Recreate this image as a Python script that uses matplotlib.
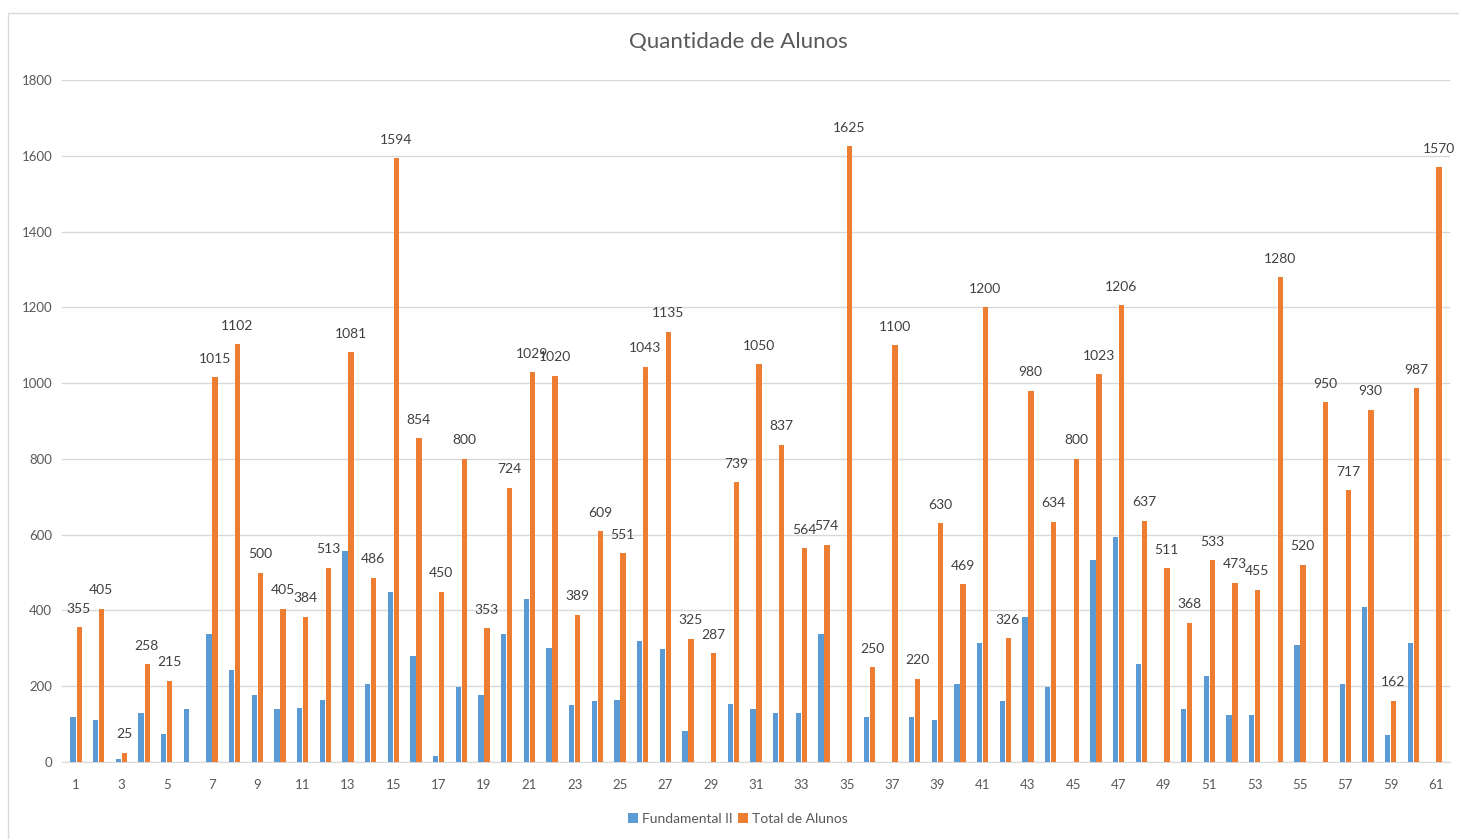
import matplotlib.pyplot as plt
import numpy as np
from matplotlib.patches import Rectangle

plt.rcParams['font.family'] = ['Lato', 'DejaVu Sans']

## dados
escolas = list(range(1, 62))

fundamental_ii = [120, 112, 7, 130, 74, 140, 339, 244, 178, 140,
                  143, 164, 557, 206, 449, 279, 15, 199, 178, 339,
                  429, 300, 150, 161, 164, 320, 299, 81, 0, 153,
                  140, 130, 130, 338, 0, 119, 0, 119, 110, 206,
                  314, 160, 383, 199, 0, 532, 595, 259, 0, 140,
                  226, 125, 125, 0, 310, 0, 206, 408, 70, 314, 0]

total_alunos = [355, 405, 25, 258, 215, None, 1015, 1102, 500, 405,
                384, 513, 1081, 486, 1594, 854, 450, 800, 353, 724,
                1029, 1020, 389, 609, 551, 1043, 1135, 325, 287, 739,
                1050, 837, 564, 574, 1625, 250, 1100, 220, 630, 469,
                1200, 326, 980, 634, 800, 1023, 1206, 637, 511, 368,
                533, 473, 455, 1280, 520, 950, 717, 930, 162, 987, 1570]

yticks = [0, 200, 400, 600, 800, 1000, 1200, 1400, 1600, 1800]

AZUL = "#5B9BD5"
LARANJA = "#ED7D31"
TEXTO = "#595959"

x = np.array(escolas)
fund = np.array(fundamental_ii, dtype=float)
fund[fund == 0] = np.nan
tot = np.array([np.nan if v is None else v for v in total_alunos], dtype=float)

fig = plt.figure(figsize=(14.59, 8.39), dpi=100)
ax = fig.add_axes([62/1459, 1 - 762/839, (1450-62)/1459, (762-80)/839])

w = 0.23
ax.bar(x - w/2 - 0.02, fund, width=w, color=AZUL, label="Fundamental II", zorder=3)
ax.bar(x + w/2 + 0.02, tot, width=w, color=LARANJA, label="Total de Alunos", zorder=3)

## rotulos do total
for xi, v in zip(x, tot):
    if np.isnan(v):
        continue
    ax.annotate(f"{int(v)}", (xi + w/2, v), xytext=(0, 9), textcoords="offset points",
                ha="center", va="bottom", fontsize=10, color="#404040")

ax.set_ylim(0, 1800)
ax.set_xlim(0.38, 61.62)
ax.set_yticks(yticks)
ax.set_xticks(escolas[::2])
ax.tick_params(axis="both", length=0, labelsize=9.5, labelcolor=TEXTO)
ax.tick_params(axis="x", pad=12)
ax.tick_params(axis="y", pad=7)
ax.grid(axis="y", color="#D9D9D9", linewidth=1, zorder=0)
for s in ["top", "right", "left"]:
    ax.spines[s].set_visible(False)
ax.spines["bottom"].set_color("#D9D9D9")

fig.text(738/1459, 1 - 42/839, "Quantidade de Alunos", ha="center", va="center",
         fontsize=16, color=TEXTO)

fig.legend(loc="center", bbox_to_anchor=(738/1459, 1 - 819/839), ncol=2, frameon=False,
           fontsize=10, labelcolor=TEXTO, handlelength=0.7, handleheight=0.7,
           handletextpad=0.3, columnspacing=0.4)

## moldura
fig.patches.append(Rectangle((8/1459, -0.1), 1.2, 1.1 - 13/839, transform=fig.transFigure,
                             fill=False, edgecolor="#D9D9D9", linewidth=1))

fig.savefig("out.png", dpi=100)
